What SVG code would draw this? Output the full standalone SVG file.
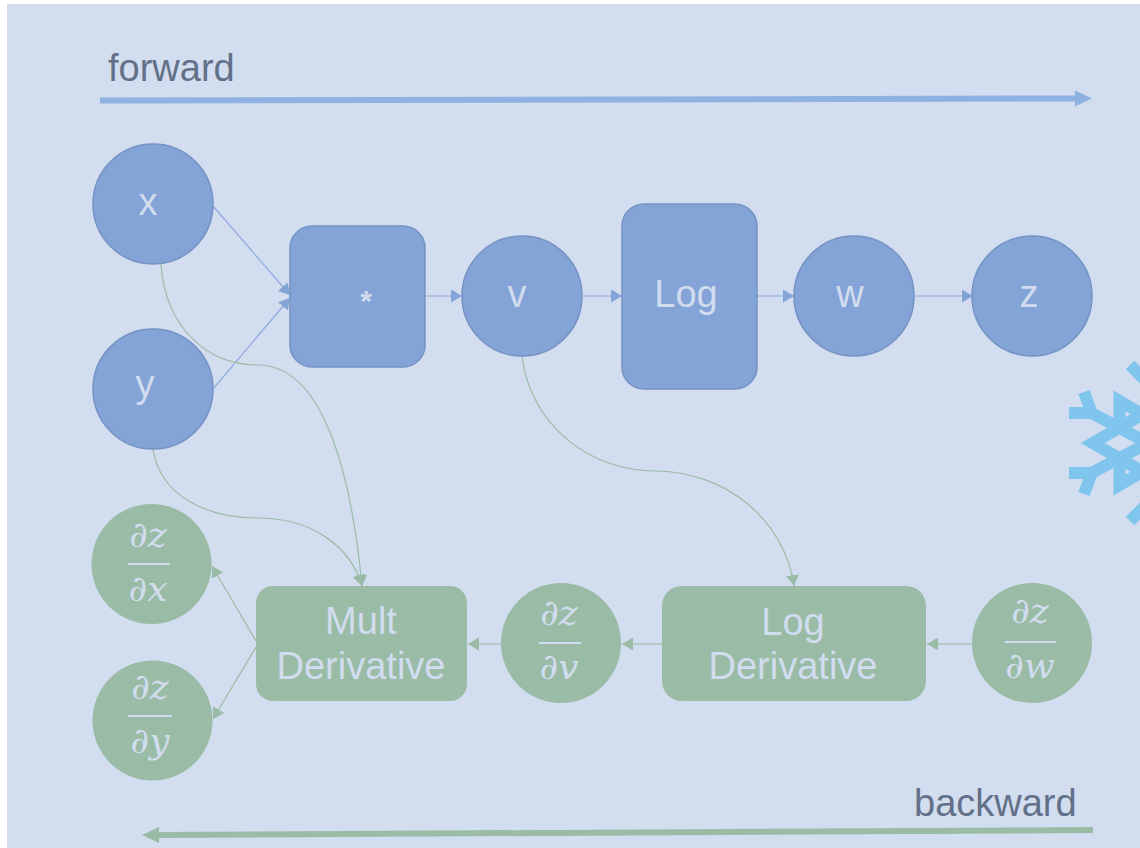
<svg xmlns="http://www.w3.org/2000/svg" width="1140" height="848" viewBox="0 0 1140 848">
<style>
.bn{fill:#84a3d7;stroke:#7592c4;stroke-width:1.5}
.gn{fill:#9abca6}
.t{font-family:"Liberation Sans",Arial,sans-serif;fill:#d1dcee;text-anchor:middle}
.m{font-family:"DejaVu Serif",serif;font-style:italic;font-size:36px;fill:#d1dcee;text-anchor:middle}
.l{font-family:"Liberation Sans",Arial,sans-serif;font-size:38px;fill:#627189}
.bl{fill:none;stroke:#8dabde;stroke-width:1.2}
.gl{fill:none;stroke:#9abca6;stroke-width:1.2}
.bar{stroke:#d1dcee;stroke-width:1.8}
</style>
<defs>
<marker id="ba" markerUnits="userSpaceOnUse" markerWidth="14" markerHeight="14" refX="11" refY="6.500" orient="auto"><path d="M0 0L11 6.500L0 13Z" fill="#84a3d7"/></marker>
<marker id="ga" markerUnits="userSpaceOnUse" markerWidth="14" markerHeight="14" refX="11" refY="6.500" orient="auto"><path d="M0 0L11 6.500L0 13Z" fill="#9abca6"/></marker>
</defs>
<rect x="0" y="0" width="1140" height="848" fill="#ffffff"/>
<rect x="7" y="4" width="1133" height="844" fill="#d2ddef"/>

<g id="snowflake" fill="none" stroke="#80c5ee" stroke-width="12" stroke-miterlimit="10">
<path d="M1169 399L1092.700 443L1169 487"/>
<path d="M1192 443L1119.500 401V428"/>
<path d="M1192 443L1119.500 485V458"/>
<path d="M1148 443L1091.700 413L1084 392M1091.700 413L1069 413M1148 443L1091.700 473L1084 494M1091.700 473L1069 473"/>
<path d="M1148 383L1130 365M1148 503L1130 521"/>
</g>

<g id="connectors">
<path class="bl" d="M213 206L290 295" marker-end="url(#ba)"/>
<path class="bl" d="M213 389L290 298" marker-end="url(#ba)"/>
<path class="bl" d="M426 296H462" marker-end="url(#ba)"/>
<path class="bl" d="M582 296H622" marker-end="url(#ba)"/>
<path class="bl" d="M757 296H794" marker-end="url(#ba)"/>
<path class="bl" d="M914 296H973" marker-end="url(#ba)"/>
<path class="gl" d="M161 264C165 325 205 365 258 365C325 365 352 480 362 586" marker-end="url(#ga)"/>
<path class="gl" d="M153 449C160 495 205 518 258 518C310 518 350 545 362 586" marker-end="url(#ga)"/>
<path class="gl" d="M522 356C530 425 590 471 655 471C725 471 785 520 794 586" marker-end="url(#ga)"/>
<path class="gl" d="M256 641L212 566" marker-end="url(#ga)"/>
<path class="gl" d="M256 647L213 719" marker-end="url(#ga)"/>
<path class="gl" d="M501 644H468" marker-end="url(#ga)"/>
<path class="gl" d="M662 644H622" marker-end="url(#ga)"/>
<path class="gl" d="M972 644H927" marker-end="url(#ga)"/>
<path d="M100 100.500L1076 98.500" stroke="#8db1e0" stroke-width="6" fill="none"/>
<path d="M1075 90.500L1092 98.500L1075 106.500Z" fill="#8db1e0"/>
<path d="M1093 830L158 835" stroke="#9abca6" stroke-width="6" fill="none"/>
<path d="M159 827L142 835L159 843Z" fill="#9abca6"/>
</g>

<g id="forward"><text class="l" x="108" y="81">forward</text></g>
<g id="backward"><text class="l" x="914" y="816">backward</text></g>

<g id="node-x"><circle class="bn" cx="153" cy="204" r="60"/><text class="t" x="148" y="215" font-size="38">x</text></g>
<g id="node-y"><circle class="bn" cx="153" cy="389" r="60"/><text class="t" x="145" y="397" font-size="38">y</text></g>
<g id="node-mult"><rect class="bn" x="290" y="226" width="135" height="141" rx="22"/><text class="t" x="366" y="311" font-size="30" font-weight="bold">*</text></g>
<g id="node-v"><circle class="bn" cx="522" cy="296" r="60"/><text class="t" x="517" y="307" font-size="38">v</text></g>
<g id="node-log"><rect class="bn" x="622" y="204" width="135" height="185" rx="22"/><text class="t" x="686" y="307" font-size="38">Log</text></g>
<g id="node-w"><circle class="bn" cx="854" cy="296" r="60"/><text class="t" x="850" y="307" font-size="38">w</text></g>
<g id="node-z"><circle class="bn" cx="1032" cy="296" r="60"/><text class="t" x="1029" y="307" font-size="38">z</text></g>

<g id="node-dzdx"><circle class="gn" cx="151.500" cy="564" r="60"/><text class="m" x="148" y="547">∂z</text><line class="bar" x1="128" y1="564" x2="170" y2="564"/><text class="m" x="148" y="601">∂x</text></g>
<g id="node-dzdy"><circle class="gn" cx="152.500" cy="720.500" r="60"/><text class="m" x="150" y="699">∂z</text><line class="bar" x1="128" y1="716" x2="172" y2="716"/><text class="m" x="150" y="753">∂y</text></g>
<g id="node-multd"><rect class="gn" x="256" y="586" width="211" height="115" rx="17"/><text class="t" x="361" y="634" font-size="38">Mult</text><text class="t" x="361" y="679" font-size="38">Derivative</text></g>
<g id="node-dzdv"><circle class="gn" cx="561" cy="643" r="60"/><text class="m" x="559" y="625">∂z</text><line class="bar" x1="539" y1="643" x2="581" y2="643"/><text class="m" x="559" y="679">∂v</text></g>
<g id="node-logd"><rect class="gn" x="662" y="586" width="264" height="115" rx="20"/><text class="t" x="793" y="635" font-size="38">Log</text><text class="t" x="793" y="679" font-size="38">Derivative</text></g>
<g id="node-dzdw"><circle class="gn" cx="1032" cy="643" r="60"/><text class="m" x="1030" y="623">∂z</text><line class="bar" x1="1005" y1="642" x2="1056" y2="642"/><text class="m" x="1030" y="678">∂w</text></g>
</svg>
